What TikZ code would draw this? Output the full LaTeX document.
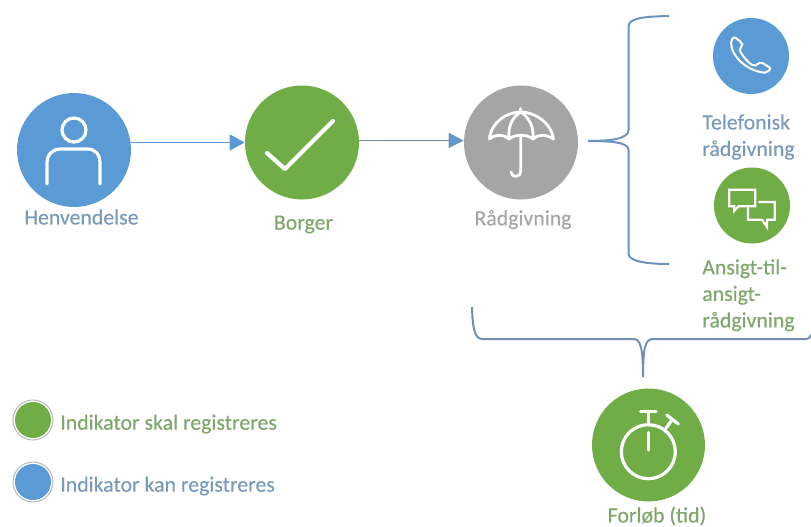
\documentclass[tikz,border=0pt]{standalone}
\usepackage{fontspec}
\setmainfont[FakeBold=0.3]{Carlito}
\usetikzlibrary{arrows.meta,positioning}

\definecolor{bluefill}{HTML}{5B9BD5}
\definecolor{greenfill}{HTML}{70AD47}
\definecolor{grayfill}{HTML}{A5A5A5}
\definecolor{bluetext}{HTML}{7A9ABA}
\definecolor{greentext}{HTML}{7FA66C}
\definecolor{graytext}{HTML}{A6A6A6}
\definecolor{braceline}{HTML}{6C93BC}

\begin{document}
\begin{tikzpicture}[
    x = 1pt,
    y = -1pt,
    on grid, % distances from centre to centre
    > = {Triangle[length=15pt,width=16pt]}, % arrow head style
    semithick % line style
    ]

    \tikzset{
    bigstate/.style = {circle, minimum size = 114pt, inner sep = 0pt},
    smallstate/.style = {circle, minimum size = 76pt, inner sep = 0pt},
    dotstate/.style = {circle, minimum size = 36pt, inner sep = 0pt},
    lbl/.style = {font = \fontsize{21.8}{26.5}\selectfont, inner sep = 0pt, align = left},
    flow/.style = {->, line width = 1.8pt},
    brace/.style = {draw = braceline, line width = 2pt},
    icon/.style = {draw = white, line width = 3.2pt, line cap = round, line join = round},
    ring/.style = {draw = black!28, line width = 1pt}
    }

    \useasboundingbox (0,0) rectangle (811,527);

    % main row
    \node[bigstate, fill = bluefill] (henv) at (74,150) {};
    \node[bigstate, fill = greenfill, right = 228pt of henv, yshift = 7.5pt] (borger) {};
    \node[bigstate, fill = grayfill, right = 219pt of borger] (radgiv) {};

    \node[lbl, text = bluetext, below = 67pt of henv, xshift = 7.5pt] (henvlbl) {Henvendelse};
    \node[lbl, text = greentext, below = 82pt of borger, xshift = 1.5pt] (borgerlbl) {Borger};
    \node[lbl, text = graytext, below = 77pt of radgiv, xshift = 2pt] (radgivlbl) {Rådgivning};

    \draw[flow, bluefill] (henv.east |- borger.west) -- (borger.west);
    \draw[flow, braceline, -{Triangle[length=15pt,width=15pt,fill=bluefill]}] ([yshift=2pt]borger.east) -- ([yshift=2pt]radgiv.west);

    % the two kinds of counselling
    \node[smallstate, fill = bluefill] (tlf) at (751,56) {};
    \node[smallstate, fill = greenfill, below = 149.5pt of tlf, xshift = 1pt] (ansigt) {};
    \node[lbl, text = bluetext, anchor = north west] (tlflbl) at (702,114) {Telefonisk\\rådgivning};
    \node[lbl, text = greentext, anchor = north west] (ansigtlbl) at (702,259) {Ansigt-til-\\ansigt-\\rådgivning};

    % timer
    \node[bigstate, minimum size = 113pt, fill = greenfill] (forlob) at (648.5,445) {};
    \node[lbl, text = greentext, below = 71pt of forlob, xshift = 8.5pt] (forloblbl) {Forløb (tid)};

    % braces
    \coordinate (bracetip) at (588,141);
    \coordinate (bracetop) at (669,16);
    \coordinate (bracebot) at (669,264);
    \draw[brace] (bracetop) .. controls (650,16.5) and (629,17) .. (628.5,26) -- (628.5,130)
        .. controls (628.5,139) and (610,141) .. (bracetip)
        .. controls (610,141) and (628.5,142) .. (628.5,150) -- (628.5,254)
        .. controls (629,262) and (650,264) .. (bracebot);

    \coordinate (lowleft) at (472,307);
    \coordinate (lowtip) at (643,377);
    \coordinate (lowright) at (811,335);
    \draw[brace, draw = braceline!85!gray] (lowleft) .. controls (472.5,325) and (474,339) .. (482,339) -- (633,339)
        .. controls (640,339) and (643,345) .. (lowtip)
        .. controls (643,345) and (646,339) .. (653,339) -- (806,339)
        .. controls (808,339) and (810,338) .. (lowright);

    % legend
    \node[dotstate, fill = greenfill] (dotgreen) at (33,420) {};
    \node[dotstate, fill = bluefill, below = 62pt of dotgreen] (dotblue) {};
    \draw[ring] (dotgreen) circle (20pt);
    \draw[ring] (dotblue) circle (20pt);
    \node[lbl, text = greentext, anchor = west] (skal) at (60,424) {Indikator skal registreres};
    \node[lbl, text = bluetext, anchor = west] (kan) at (60,486) {Indikator kan registreres};

    % person
    \draw[icon] (74,130) circle (12pt);
    \draw[icon] (47,184) -- (47,163) .. controls (47,154) and (53,149) .. (61,149) -- (87,149)
        .. controls (95,149) and (100,154) .. (100,163) -- (100,184);

    % check mark
    \draw[icon, line width = 4.2pt] (267,153) -- (285,169) -- (333,121);

    % umbrella
    \draw[icon, line width = 2.8pt] (489.5,139) .. controls (491,122) and (507,112) .. (520.7,112)
        .. controls (534,112) and (551,122) .. (553.5,139)
        .. controls (546,134) and (538,134) .. (533,139)
        .. controls (527,134) and (515,134) .. (509,139)
        .. controls (504,134) and (495,134) .. cycle;
    \draw[icon, line width = 2.8pt] (509,139) .. controls (508,128) and (511,118) .. (520.7,112)
        .. controls (530,118) and (534,128) .. (533,139);
    \draw[icon, line width = 2.8pt] (520.7,108.5) -- (520.7,112);
    \draw[icon, line width = 2.8pt] (520.7,136) -- (520.7,171) .. controls (520.7,178) and (511,178) .. (511,172);

    % phone
    \draw[icon, line width = 2pt, rounded corners = 2pt] (734.3,36.7) -- (741.7,42.7) -- (743,45.5) -- (739.3,48.3)
        .. controls (741,54) and (748,63) .. (754.3,66) -- (757,65) -- (760.3,61.7) -- (771,68.3) -- (766.7,72.7)
        .. controls (748.3,71.7) and (731,56.7) .. (731,40.7) -- cycle;

    % speech bubbles
    \draw[icon, line width = 2.2pt, line join = miter] (729.3,189.7) -- (755.3,189.7) -- (755.3,206.3) -- (738.7,206.3)
        -- (734.3,210.7) -- (734.3,206.3) -- (729.3,206.3) -- cycle;
    \draw[icon, line width = 2.2pt, line join = miter] (759.3,202) -- (774.7,202) -- (774.7,219.7) -- (767,219.7)
        -- (767,227) -- (762,219.7) -- (748,219.7) -- (748,208);

    % stopwatch
    \draw[icon] (648.3,451.7) circle (27pt);
    \draw[icon] (640.7,411.7) -- (656,411.7);
    \draw[icon] (648.3,411.7) -- (648.3,424.7);
    \draw[icon] (666.7,415) -- (678.3,424);
    \draw[icon] (672.3,419.3) -- (666,428.3);
    \draw[icon] (648.3,432.7) -- (648.3,450);
\end{tikzpicture}
\end{document}
